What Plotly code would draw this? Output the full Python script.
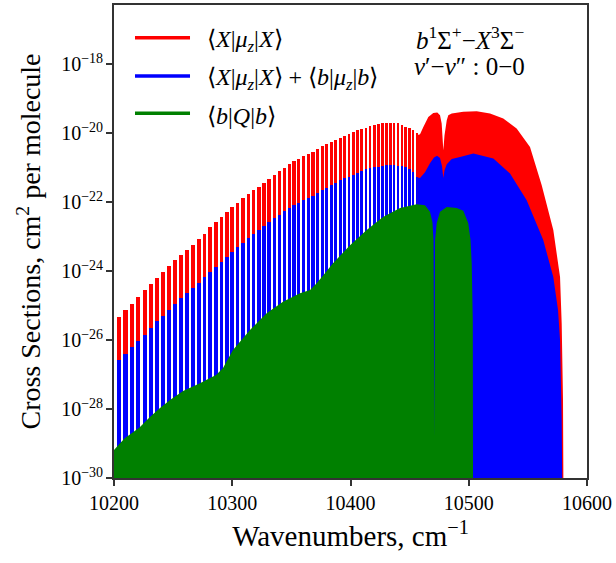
import numpy as np
import plotly.graph_objects as go

# ---------------- data ----------------
# rotational line positions (cm^-1) of the resolved branch
LINE_WN = [10204.2, 10209.7, 10215.2, 10220.5, 10225.9, 10231.2, 10236.4, 10241.6, 10246.7, 10251.8,
           10256.8, 10261.8, 10266.8, 10271.7, 10276.5, 10281.3, 10286.1, 10290.8, 10295.4, 10300.0,
           10304.6, 10309.2, 10313.7, 10318.1, 10322.5, 10326.9, 10331.2, 10335.5, 10339.7, 10343.9,
           10348.1, 10352.2, 10356.3, 10360.3, 10364.3, 10368.3, 10372.2, 10376.1, 10380.0, 10383.8,
           10387.6, 10391.3, 10395.0, 10398.7, 10402.3, 10405.9, 10409.5, 10413.1, 10416.6, 10420.0,
           10423.5, 10426.9, 10430.3, 10433.6, 10436.9, 10440.2, 10443.4, 10446.6, 10449.8, 10453.0,
           10456.1]
# peak cross sections, log10(cm^2 per molecule)
RED_LINE_LOG10 = [-25.32, -25.13, -24.94, -24.76, -24.56, -24.38, -24.19, -24.02, -23.84, -23.69,
                  -23.53, -23.39, -23.23, -23.08, -22.91, -22.72, -22.58, -22.43, -22.29, -22.14,
                  -22.02, -21.89, -21.77, -21.66, -21.55, -21.43, -21.32, -21.21, -21.10, -21.00,
                  -20.90, -20.81, -20.74, -20.66, -20.59, -20.53, -20.45, -20.38, -20.32, -20.25,
                  -20.19, -20.13, -20.07, -20.02, -19.97, -19.92, -19.88, -19.84, -19.80, -19.76,
                  -19.73, -19.71, -19.70, -19.69, -19.70, -19.71, -19.75, -19.81, -19.86, -19.91,
                  -20.00]
BLUE_LINE_LOG10 = [-26.58, -26.40, -26.21, -26.02, -25.84, -25.65, -25.46, -25.29, -25.12, -24.94,
                   -24.79, -24.63, -24.48, -24.33, -24.18, -24.02, -23.87, -23.72, -23.58, -23.44,
                   -23.30, -23.18, -23.05, -22.93, -22.82, -22.70, -22.57, -22.46, -22.36, -22.26,
                   -22.17, -22.09, -22.01, -21.95, -21.89, -21.82, -21.74, -21.65, -21.58, -21.51,
                   -21.44, -21.37, -21.31, -21.26, -21.20, -21.14, -21.10, -21.05, -21.02, -20.99,
                   -20.97, -20.95, -20.93, -20.93, -20.93, -20.94, -20.96, -20.99, -21.05, -21.12,
                   -21.26]

# unresolved (blended) band region, envelope
RED_BAND_WN = [10457.0, 10458.8, 10461.6, 10465.8, 10470.0, 10473.4, 10475.7, 10477.1, 10478.5, 10479.5,
               10481.4, 10482.7, 10485.6, 10495.4, 10506.7, 10518.0, 10529.2, 10540.5, 10551.8, 10561.7,
               10571.5, 10577.2, 10578.6, 10579.7, 10580.0]
RED_BAND_LOG10 = [-20.05, -20.03, -19.82, -19.53, -19.41, -19.40, -19.48, -19.72, -20.49, -20.06,
                  -19.62, -19.48, -19.43, -19.38, -19.36, -19.43, -19.57, -19.86, -20.40, -21.51,
                  -22.81, -24.17, -25.52, -27.74, -29.90]
BLUE_BAND_WN = [10457.0, 10458.8, 10463.0, 10467.2, 10470.6, 10473.2, 10475.7, 10477.4, 10478.5, 10479.5,
                10481.4, 10485.6, 10492.6, 10503.9, 10520.8, 10534.9, 10549.0, 10563.0, 10571.5, 10575.5,
                10577.2, 10578.6, 10579.0]
BLUE_BAND_LOG10 = [-21.28, -21.30, -21.13, -20.87, -20.70, -20.65, -20.72, -20.96, -21.30, -21.07,
                   -20.90, -20.75, -20.69, -20.59, -20.73, -21.17, -21.94, -23.10, -24.17, -25.13,
                   -26.00, -28.32, -29.90]

GREEN_WN = [10195.0, 10200.0, 10205.1, 10209.3, 10216.1, 10222.0, 10230.4, 10238.9, 10247.4, 10258.4,
            10272.7, 10281.2, 10286.3, 10292.2, 10300.6, 10315.0, 10329.1, 10342.9, 10357.3, 10365.8,
            10371.4, 10378.4, 10385.2, 10399.6, 10413.7, 10427.5, 10441.9, 10456.0, 10463.0, 10467.2,
            10469.3, 10470.2, 10470.9, 10471.5, 10472.9, 10475.7, 10481.4, 10489.8, 10495.4, 10499.6,
            10501.5, 10502.5, 10503.4, 10503.6]
GREEN_LOG10 = [-29.35, -29.19, -28.99, -28.84, -28.67, -28.52, -28.23, -27.97, -27.74, -27.48,
               -27.25, -27.10, -27.01, -26.81, -26.29, -25.71, -25.22, -24.89, -24.64, -24.55,
               -24.35, -24.06, -23.77, -23.25, -22.81, -22.43, -22.17, -22.06, -22.09, -22.28,
               -22.58, -23.10, -28.78, -23.10, -22.61, -22.28, -22.14, -22.17, -22.25, -22.61,
               -23.10, -23.77, -25.42, -29.90]

X_TICKS = [10200, 10300, 10400, 10500, 10600]
X_TICK_LABELS = ["10200", "10300", "10400", "10500", "10600"]
SERIES_NAMES = [
    "⟨<i>X</i>|<i>μ</i><sub><i>z</i></sub>|<i>X</i>⟩",
    "⟨<i>X</i>|<i>μ</i><sub><i>z</i></sub>|<i>X</i>⟩ + ⟨<i>b</i>|<i>μ</i><sub><i>z</i></sub>|<i>b</i>⟩",
    "⟨<i>b</i>|<i>Q</i>|<i>b</i>⟩",
]
SERIES_COLORS = ["#ff0000", "#0000ff", "#008000"]
BAND_LABEL = ["<i>b</i><sup>1</sup>Σ<sup>+</sup>−<i>X</i><sup>3</sup>Σ<sup>−</sup>",
              "<i>ν</i>′−<i>ν</i>″ : 0−0"]

FLOOR = 1e-33  # fill floor, below the visible axis range
FONT = "Liberation Serif, Times New Roman, serif"

line_wn = np.array(LINE_WN)
bar_w = 0.66 * np.gradient(line_wn)


def closed_area(wn, lg):
    x = [wn[0]] + list(wn) + [wn[-1]]
    y = [FLOOR] + [10.0 ** v for v in lg] + [FLOOR]
    return x, y


fig = go.Figure()
# resolved lines
fig.add_bar(x=LINE_WN, y=10.0 ** np.array(RED_LINE_LOG10), width=bar_w,
            marker=dict(color=SERIES_COLORS[0], line=dict(width=0)), showlegend=False, hoverinfo="skip")
fig.add_bar(x=LINE_WN, y=10.0 ** np.array(BLUE_LINE_LOG10), width=bar_w,
            marker=dict(color=SERIES_COLORS[1], line=dict(width=0)), showlegend=False, hoverinfo="skip")
# blended region
for wn, lg, c in [(RED_BAND_WN, RED_BAND_LOG10, SERIES_COLORS[0]),
                  (BLUE_BAND_WN, BLUE_BAND_LOG10, SERIES_COLORS[1]),
                  (GREEN_WN, GREEN_LOG10, SERIES_COLORS[2])]:
    x, y = closed_area(wn, lg)
    fig.add_scatter(x=x, y=y, mode="lines", fill="toself", fillcolor=c,
                    line=dict(width=0, color=c, simplify=False), showlegend=False, hoverinfo="skip")

fig.update_layout(
    width=616, height=563, template="none",
    margin=dict(l=114, r=29, t=5, b=85),
    paper_bgcolor="white", plot_bgcolor="white",
    barmode="overlay", bargap=0, showlegend=False,
    font=dict(family=FONT, color="black"),
)
axis_common = dict(showline=True, linecolor="#333", linewidth=1.5, mirror=True,
                   ticks="outside", ticklen=6, tickwidth=1.5, tickcolor="#333",
                   showgrid=False, zeroline=False)
fig.update_xaxes(range=[10200, 10600], tickmode="array", tickvals=X_TICKS, ticktext=X_TICK_LABELS,
                 tickfont=dict(size=20, family=FONT),
                 title=dict(text="Wavenumbers, cm<sup>−1</sup>", font=dict(size=29, family=FONT), standoff=13),
                 **axis_common)
fig.update_yaxes(type="log", range=[-30, -16.28], tick0=0, dtick=2, exponentformat="power",
                 tickfont=dict(size=16, family=FONT),
                 title=dict(text="Cross Sections, cm<sup>2</sup> per molecule", font=dict(size=28, family=FONT), standoff=12),
                 **axis_common)

# legend (line samples + labels)
LEG_Y = [0.9309, 0.8499, 0.7710]
for name, color, yy in zip(SERIES_NAMES, SERIES_COLORS, LEG_Y):
    fig.add_shape(type="line", xref="paper", yref="paper", x0=0.0444, x1=0.1607, y0=yy, y1=yy,
                  line=dict(color=color, width=3.5))
    fig.add_annotation(xref="paper", yref="paper", x=0.1924, y=yy, yshift=-3, text=name,
                       showarrow=False, xanchor="left", yanchor="middle",
                       font=dict(size=24, family=FONT, color="black"))

fig.add_annotation(xref="paper", yref="paper", x=0.752, y=0.930, text=BAND_LABEL[0], showarrow=False,
                   xanchor="center", yanchor="middle", font=dict(size=25, family=FONT, color="black"))
fig.add_annotation(xref="paper", yref="paper", x=0.752, y=0.871, text=BAND_LABEL[1], showarrow=False,
                   xanchor="center", yanchor="middle", font=dict(size=25, family=FONT, color="black"))

# the page's default body margin would shift the figure; remove it
fig.write_html("out.html", config={"displayModeBar": False},
               post_script="document.body.style.margin='0';")
